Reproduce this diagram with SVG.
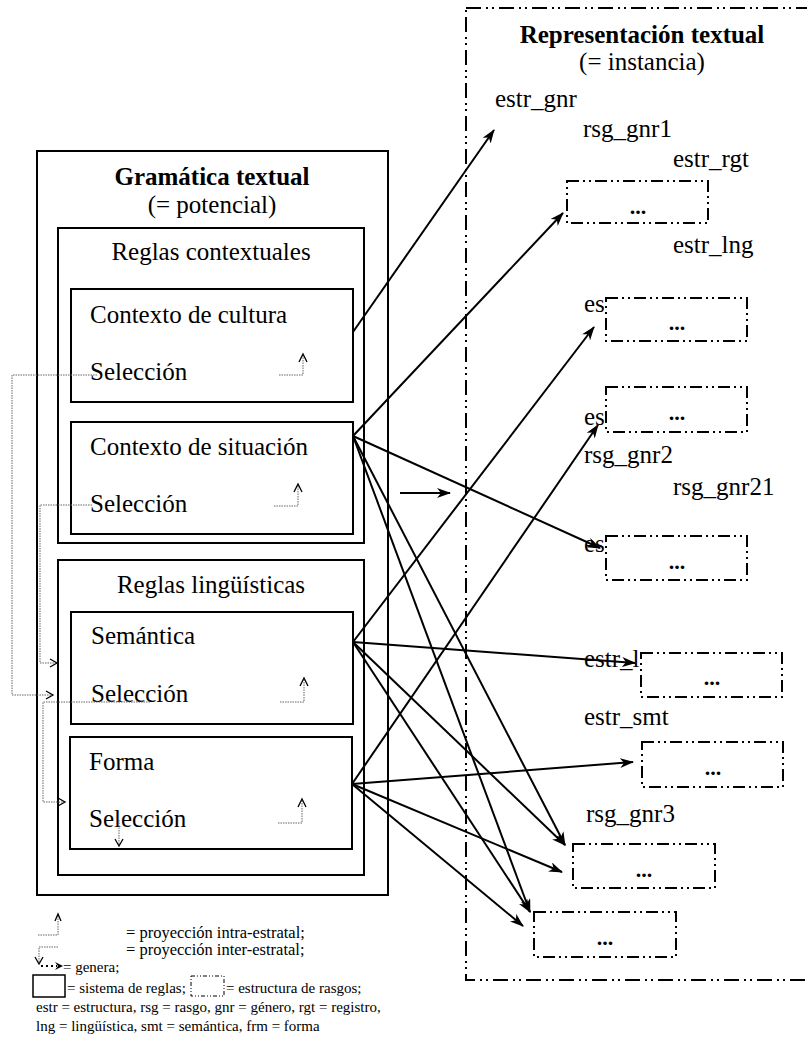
<svg xmlns="http://www.w3.org/2000/svg" width="807" height="1045" viewBox="0 0 807 1045" font-family="'Liberation Serif','Times New Roman',serif">
<style>
text{font-family:"Liberation Serif","Times New Roman",Tinos,serif;fill:#000}
.t{font-size:25px}
.b{font-size:25px;font-weight:bold}
.c{text-anchor:middle}
.d{font-size:22px;font-weight:bold;text-anchor:middle}
.lg{font-size:16.5px}
.ls{font-size:15px}
.box{fill:#fff;stroke:#000;stroke-width:2}
.sb{fill:#fff;stroke:#000;stroke-width:2;stroke-dasharray:12 4 2 4 2 4}
.big{fill:none;stroke:#000;stroke-width:2;stroke-dasharray:15 5 2 4 2 5}
.dot{fill:none;stroke:#666;stroke-width:1;stroke-dasharray:1.5 1}
.hd{fill:none;stroke:#000;stroke-width:1.3}
.ar{fill:none;stroke:#000;stroke-width:2;marker-end:url(#ah)}
</style>
<defs>
<marker id="ah" viewBox="0 0 14 10" refX="13" refY="5" markerWidth="14" markerHeight="10" markerUnits="userSpaceOnUse" orient="auto"><path d="M0,0 L14,5 L0,10 L4,5 z" fill="#000"/></marker>
</defs>

<g id="representacion">
<rect class="big" x="466" y="8" width="360" height="972"/>
<text class="b c" x="642" y="43">Representación textual</text>
<text class="t c" x="642" y="70">(= instancia)</text>
<text class="t" x="495" y="107">estr_gnr</text>
<text class="t" x="583" y="137">rsg_gnr1</text>
<text class="t" x="673" y="167">estr_rgt</text>
<text class="t" x="673" y="253">estr_lng</text>
<text class="t" x="584" y="312">es</text>
<text class="t" x="584" y="425">es</text>
<text class="t" x="584" y="463">rsg_gnr2</text>
<text class="t" x="673" y="495">rsg_gnr21</text>
<text class="t" x="584" y="552">es</text>
<text class="t" x="584" y="667">estr_l</text>
<text class="t" x="584" y="725">estr_smt</text>
<text class="t" x="586" y="822">rsg_gnr3</text>
</g>
<g id="estr1"><rect class="sb" x="567" y="181" width="141" height="42"/><text class="d" x="638" y="214">...</text></g>
<g id="estr2"><rect class="sb" x="606" y="298" width="141" height="43"/><text class="d" x="677" y="330">...</text></g>
<g id="estr3"><rect class="sb" x="606" y="387" width="141" height="45"/><text class="d" x="677" y="420">...</text></g>
<g id="estr4"><rect class="sb" x="606" y="536" width="141" height="44"/><text class="d" x="677" y="569">...</text></g>
<g id="estr5"><rect class="sb" x="641" y="653" width="141" height="44"/><text class="d" x="712" y="685">...</text></g>
<g id="estr6"><rect class="sb" x="642" y="742" width="141" height="45"/><text class="d" x="713" y="775">...</text></g>
<g id="estr7"><rect class="sb" x="573" y="844" width="142" height="44"/><text class="d" x="644" y="877">...</text></g>
<g id="estr8"><rect class="sb" x="534" y="912" width="142" height="45"/><text class="d" x="605" y="945">...</text></g>

<g id="gramatica">
<rect class="box" x="37" y="151" width="351" height="744"/>
<text class="b c" x="212" y="185">Gramática textual</text>
<text class="t c" x="212" y="213">(= potencial)</text>
</g>
<g id="reglas-contextuales">
<rect class="box" x="58" y="228" width="306" height="315"/>
<text class="t c" x="211" y="260">Reglas contextuales</text>
</g>
<g id="cultura">
<rect class="box" x="71" y="289" width="282" height="113"/>
<text class="t" x="90" y="323">Contexto de cultura</text>
<text class="t" x="90" y="380">Selección</text>
</g>
<g id="situacion">
<rect class="box" x="71" y="422" width="282" height="112"/>
<text class="t" x="90" y="455">Contexto de situación</text>
<text class="t" x="90" y="512">Selección</text>
</g>
<g id="reglas-linguisticas">
<rect class="box" x="58" y="560" width="306" height="315"/>
<text class="t c" x="211" y="593">Reglas lingüísticas</text>
</g>
<g id="semantica">
<rect class="box" x="71" y="612" width="282" height="112"/>
<text class="t" x="91" y="644">Semántica</text>
<text class="t" x="91" y="702">Selección</text>
</g>
<g id="forma">
<rect class="box" x="70" y="737" width="282" height="112"/>
<text class="t" x="89" y="770">Forma</text>
<text class="t" x="89" y="827">Selección</text>
</g>

<g id="proyecciones">
<path class="dot" d="M279,375 H303 V356"/><path class="hd" d="M299,362 L303,354 L307,362"/>
<path class="dot" d="M274,506 H298 V486"/><path class="hd" d="M294,492 L298,484 L302,492"/>
<path class="dot" d="M280,702 H304 V680"/><path class="hd" d="M300,686 L304,678 L308,686"/>
<path class="dot" d="M278,823 H302 V801"/><path class="hd" d="M298,807 L302,799 L306,807"/>
<path class="dot" d="M97,375 H12 V695 H52"/><path class="hd" d="M46,691 L53,695 L46,699"/>
<path class="dot" d="M92,505 H40 V663 H56"/><path class="hd" d="M50,659 L57,663 L50,667"/>
<path class="dot" d="M150,702 H43 V802 H64"/><path class="hd" d="M58,798 L65,802 L58,806"/>
<path class="dot" d="M119,820 V845"/><path class="hd" d="M115,839 L119,846 L123,839"/>
</g>

<g id="conectores">
<path class="ar" d="M353,332 L494,130"/>
<path class="ar" d="M353,436 L563,213"/>
<path class="ar" d="M353,436 L600,548"/>
<path class="ar" d="M353,436 L565,845"/>
<path class="ar" d="M353,436 L530,912"/>
<path class="ar" d="M353,642 L594,327"/>
<path class="ar" d="M353,642 L635,663"/>
<path class="ar" d="M353,642 L565,845"/>
<path class="ar" d="M353,642 L530,912"/>
<path class="ar" d="M352,784 L598,425"/>
<path class="ar" d="M352,784 L633,762"/>
<path class="ar" d="M352,784 L562,872"/>
<path class="ar" d="M352,784 L523,926"/>
<path class="ar" d="M400,493 L450,493"/>
</g>

<g id="leyenda">
<path class="dot" d="M38,935 H58 V916"/><path class="hd" d="M55,921 L58,914 L61,921"/>
<text class="lg" x="126" y="938">= proyección intra-estratal;</text>
<path class="dot" d="M58,947 H39 V962"/><path class="hd" d="M35,957 L39,964 L43,957"/>
<text class="lg" x="126" y="955">= proyección inter-estratal;</text>
<path d="M41,966 H57" fill="none" stroke="#000" stroke-width="2" stroke-dasharray="2 3"/><path d="M55,962 L63,966 L55,970 L58,966 z" fill="#000"/>
<text class="ls" x="63" y="972">= genera;</text>
<rect x="33" y="975" width="32" height="22" fill="#fff" stroke="#000" stroke-width="1.5"/>
<text class="ls" x="67" y="993">= sistema de reglas;</text>
<rect x="191" y="976" width="33" height="20" fill="none" stroke="#000" stroke-width="1" stroke-dasharray="4 2 1 2 1 2"/>
<text class="ls" x="226" y="993">= estructura de rasgos;</text>
<text class="ls" x="36" y="1012">estr = estructura, rsg = rasgo, gnr = género, rgt = registro,</text>
<text class="ls" x="36" y="1031">lng = lingüística, smt = semántica, frm = forma</text>
</g>
</svg>
